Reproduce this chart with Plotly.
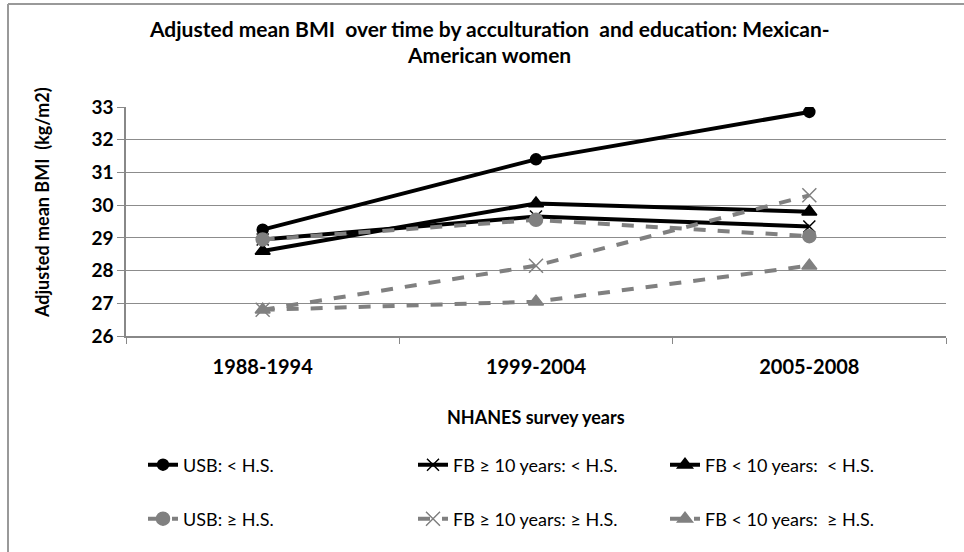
import plotly.graph_objects as go

years = ['1988-1994', '1999-2004', '2005-2008']

usb_lt_hs = [29.25, 31.4, 32.85]
fb10_lt_hs = [28.95, 29.65, 29.35]
fblt10_lt_hs = [28.6, 30.05, 29.8]
usb_ge_hs = [28.95, 29.55, 29.05]
fb10_ge_hs = [26.8, 28.15, 30.3]
fblt10_ge_hs = [26.8, 27.05, 28.15]

FONT = 'Lato, Carlito, Calibri, sans-serif'
BLACK = '#000000'
GRAY = '#808080'

# plot area in pixels, used to place legends / frame / labels in paper coords
W, H = 964, 552
L, R, T, B = 126, 18, 107, 216
PW, PH = W - L - R, H - T - B


def px_x(x):
    return (x - L) / PW


def px_y(y):
    return (H - B - y) / PH


series = [
    ('USB: < H.S.', usb_lt_hs, BLACK, 'solid', 'circle', 11, 'legend'),
    ('FB ≥ 10 years: < H.S.', fb10_lt_hs, BLACK, 'solid', 'x-thin-open', 12, 'legend2'),
    ('FB < 10 years:  < H.S.', fblt10_lt_hs, BLACK, 'solid', 'triangle-up', 13, 'legend3'),
    ('USB: ≥ H.S.', usb_ge_hs, GRAY, 'dash', 'circle', 13, 'legend4'),
    ('FB ≥ 10 years: ≥ H.S.', fb10_ge_hs, GRAY, 'dash', 'x-thin-open', 14, 'legend5'),
    ('FB < 10 years:  ≥ H.S.', fblt10_ge_hs, GRAY, 'dash', 'triangle-up', 13, 'legend6'),
]

fig = go.Figure()
for name, vals, col, dash, sym, size, leg in series:
    fig.add_scatter(x=years, y=vals, name=name, mode='lines+markers',
                    line=dict(color=col, width=4, dash=dash),
                    marker=dict(symbol=sym, size=size, color=col,
                                line=dict(color=col, width=1.5)),
                    legend=leg)

# left edge of each legend box
legend_pos = {
    'legend': (143, 465), 'legend2': (413, 465), 'legend3': (665, 465),
    'legend4': (143, 519), 'legend5': (413, 519), 'legend6': (665, 519),
}
legends = {}
for key, (lx, ly) in legend_pos.items():
    legends[key] = dict(x=px_x(lx), y=px_y(ly), xanchor='left', yanchor='middle',
                        orientation='h', bgcolor='rgba(0,0,0,0)',
                        font=dict(family=FONT, size=18, color='#000000'))

fig.update_layout(
    width=W, height=H,
    margin=dict(l=L, r=R, t=T, b=B),
    paper_bgcolor='white', plot_bgcolor='white',
    font=dict(family=FONT, color='#000000'),
    showlegend=True,
    xaxis=dict(type='category', range=[-0.5, 2.5], tickson='boundaries',
               ticks='outside', ticklen=6, tickcolor='#888888',
               showline=True, linecolor='#888888', linewidth=1.5,
               showgrid=False, tickfont=dict(size=20, family=FONT),
               ticklabelstandoff=12,
               tickprefix='<b>', ticksuffix='</b>'),
    yaxis=dict(range=[26, 33], dtick=1, ticks='outside', ticklen=7, tickcolor='#888888',
               showline=True, linecolor='#888888', linewidth=1.5,
               showgrid=True, gridcolor='#8c8c8c', gridwidth=1.2, zeroline=False,
               tickfont=dict(size=19, family=FONT), tickprefix='<b>', ticksuffix='</b>'),
    **legends,
)

labels = [
    ('<b>Adjusted mean BMI  over time by acculturation  and education: Mexican-</b>', 489, 28, 21, 0),
    ('<b>American women</b>', 489, 55, 21, 0),
    ('<b>NHANES survey years</b>', 536, 417, 18, 0),
    ('<b>Adjusted mean BMI  (kg/m2)</b>', 42, 203, 18, -90),
]
for text, lx, ly, size, angle in labels:
    fig.add_annotation(text=text, xref='paper', yref='paper', x=px_x(lx), y=px_y(ly),
                       xanchor='center', yanchor='middle', showarrow=False,
                       textangle=angle, font=dict(size=size, family=FONT, color='#000000'))

# outer chart frame: only the top and left edges fall inside the picture
frame = dict(color='#999999', width=2)
fig.add_shape(type='line', xref='paper', yref='paper',
              x0=px_x(8), x1=px_x(964), y0=px_y(4), y1=px_y(4), line=frame)
fig.add_shape(type='line', xref='paper', yref='paper',
              x0=px_x(8), x1=px_x(8), y0=px_y(4), y1=px_y(552), line=frame)

fig.write_html('out.html', config={'displayModeBar': False},
               post_script="document.body.style.margin='0';document.body.style.overflow='hidden';")
